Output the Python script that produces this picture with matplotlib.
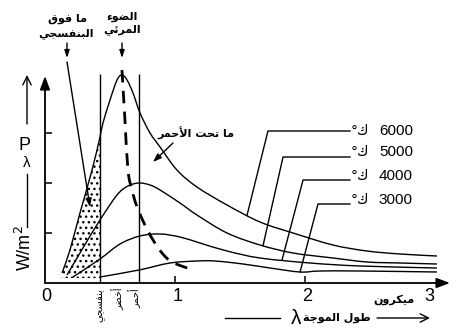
import numpy as np
import matplotlib
matplotlib.use("Agg")
import matplotlib.pyplot as plt
from matplotlib.path import Path
from matplotlib.patches import PathPatch

plt.rcParams["font.family"] = ["Liberation Sans", "DejaVu Sans"]

# ---------------- data (wavelength in microns, relative spectral power) ----------------
lam_6000 = [0.131, 0.192, 0.269, 0.362, 0.423, 0.446, 0.50, 0.554, 0.592, 0.631, 0.677,
            0.731, 0.808, 0.885, 1.015, 1.169, 1.40, 1.654, 1.908, 2.215, 2.477, 2.731, 3.015]
p_6000 = [0.20, 0.66, 1.40, 2.26, 2.92, 3.20, 3.66, 4.06, 4.16, 4.06, 3.80,
          3.40, 3.00, 2.72, 2.26, 1.92, 1.56, 1.22, 1.00, 0.76, 0.64, 0.58, 0.54]

lam_5000 = [0.169, 0.292, 0.423, 0.554, 0.638, 0.723, 0.808, 0.885, 1.038, 1.169,
            1.40, 1.654, 1.908, 2.215, 2.477, 2.731, 3.015]
p_5000 = [0.16, 0.70, 1.26, 1.76, 1.94, 2.00, 1.96, 1.86, 1.60, 1.36,
          1.00, 0.76, 0.60, 0.50, 0.42, 0.40, 0.38]

lam_4000 = [0.215, 0.423, 0.577, 0.731, 0.885, 1.038, 1.192, 1.40, 1.654, 2.038, 2.423, 3.015]
p_4000 = [0.12, 0.48, 0.78, 0.94, 0.98, 0.92, 0.80, 0.64, 0.50, 0.40, 0.34, 0.30]

lam_3000 = [0.423, 0.723, 0.962, 1.169, 1.308, 1.523, 1.731, 1.962, 2.115, 2.423, 3.015]
p_3000 = [0.12, 0.26, 0.40, 0.44, 0.44, 0.38, 0.30, 0.22, 0.24, 0.24, 0.22]

# locus of the spectral peaks
lam_peak = [0.592, 0.615, 0.638, 0.669, 0.708, 0.769, 0.831, 0.90, 0.977, 1.115]
p_peak = [4.26, 3.26, 2.26, 1.86, 1.52, 1.16, 0.86, 0.60, 0.42, 0.28]

# visible band edges (violet, red) in microns and the colour names under the axis
band_edges = [0.423, 0.723]
band_label_lam = [0.423, 0.56, 0.69]
band_labels = ["بنفسجي", "أخضر", "أحمر"]

temperatures = ["6000", "5000", "4000", "3000"]
curves = [(lam_6000, p_6000), (lam_5000, p_5000), (lam_4000, p_4000), (lam_3000, p_3000)]
leader_lam = [1.554, 1.677, 1.823, 1.962]
leader_corner_lam = [1.715, 1.831, 1.985, 2.10]
leader_p = [3.04, 2.52, 2.06, 1.58]
label_p = [3.04, 2.61, 2.13, 1.66]

x_ticks = [0, 1, 2, 3]
y_ticks = [1, 2, 3]

# ---------------- minimal Arabic contextual shaping ----------------
FORMS = {
    "ء": (0xFE80, None, None, None),
    "أ": (0xFE83, 0xFE84, None, None),
    "ئ": (0xFE89, 0xFE8A, 0xFE8B, 0xFE8C),
    "ا": (0xFE8D, 0xFE8E, None, None),
    "ب": (0xFE8F, 0xFE90, 0xFE91, 0xFE92),
    "ة": (0xFE93, 0xFE94, None, None),
    "ت": (0xFE95, 0xFE96, 0xFE97, 0xFE98),
    "ج": (0xFE9D, 0xFE9E, 0xFE9F, 0xFEA0),
    "ح": (0xFEA1, 0xFEA2, 0xFEA3, 0xFEA4),
    "خ": (0xFEA5, 0xFEA6, 0xFEA7, 0xFEA8),
    "ر": (0xFEAD, 0xFEAE, None, None),
    "س": (0xFEB1, 0xFEB2, 0xFEB3, 0xFEB4),
    "ض": (0xFEBD, 0xFEBE, 0xFEBF, 0xFEC0),
    "ط": (0xFEC1, 0xFEC2, 0xFEC3, 0xFEC4),
    "ف": (0xFED1, 0xFED2, 0xFED3, 0xFED4),
    "ق": (0xFED5, 0xFED6, 0xFED7, 0xFED8),
    "ك": (0xFED9, 0xFEDA, 0xFEDB, 0xFEDC),
    "ل": (0xFEDD, 0xFEDE, 0xFEDF, 0xFEE0),
    "م": (0xFEE1, 0xFEE2, 0xFEE3, 0xFEE4),
    "ن": (0xFEE5, 0xFEE6, 0xFEE7, 0xFEE8),
    "و": (0xFEED, 0xFEEE, None, None),
    "ي": (0xFEF1, 0xFEF2, 0xFEF3, 0xFEF4),
}
LAM_ALEF = {"ا": (0xFEFB, 0xFEFC), "أ": (0xFEF7, 0xFEF8)}


def shape(text):
    units = []
    i = 0
    while i < len(text):
        c = text[i]
        if c == "ل" and i + 1 < len(text) and text[i + 1] in LAM_ALEF:
            units.append(("LA", text[i + 1]))
            i += 2
        else:
            units.append(c)
            i += 1

    def joins_next(u):
        if isinstance(u, tuple):
            return False
        f = FORMS.get(u)
        return f is not None and f[2] is not None

    def joins_prev(u):
        if isinstance(u, tuple):
            return True
        f = FORMS.get(u)
        return f is not None and f[1] is not None

    out = []
    for k, u in enumerate(units):
        prev = units[k - 1] if k > 0 else None
        nxt = units[k + 1] if k + 1 < len(units) else None
        jp = prev is not None and joins_next(prev) and joins_prev(u)
        jn = nxt is not None and joins_next(u) and joins_prev(nxt)
        if isinstance(u, tuple):
            out.append(chr(LAM_ALEF[u[1]][1 if jp else 0]))
        elif u in FORMS:
            f = FORMS[u]
            idx = 3 if (jp and jn) else 1 if jp else 2 if jn else 0
            out.append(chr(f[idx]))
        else:
            out.append(u)
    return "".join(reversed(out))


def smooth_path(xs, ys):
    """Cubic Bezier path passing through every given point (Catmull-Rom tangents)."""
    pts = np.column_stack([xs, ys]).astype(float)
    verts = [pts[0]]
    codes = [Path.MOVETO]
    n = len(pts)
    for i in range(n - 1):
        p0 = pts[i - 1] if i > 0 else pts[i]
        p1, p2 = pts[i], pts[i + 1]
        p3 = pts[i + 2] if i + 2 < n else pts[i + 1]
        verts += [p1 + (p2 - p0) / 6, p2 - (p3 - p1) / 6, p2]
        codes += [Path.CURVE4] * 3
    return Path(verts, codes)


# ---------------- figure ----------------
W, H = 462, 334
fig = plt.figure(figsize=(W / 100, H / 100), dpi=100)
X0, Y0, SX, SY = 45, 283, 130, 50
XMAX = (450 - X0) / SX
YMAX = (Y0 - 60) / SY
ax = fig.add_axes([X0 / W, (H - Y0) / H, XMAX * SX / W, YMAX * SY / H])
ax.set_xlim(0, XMAX)
ax.set_ylim(0, YMAX)
for s in ax.spines.values():
    s.set_visible(False)


def ftxt(x, y, s, **kw):
    fig.text(x / W, 1 - y / H, s, **kw)


def dpt(x, y):
    return ((x - X0) / SX, (Y0 - y) / SY)


AR = dict(family="DejaVu Sans", fontweight="bold")
k = "black"

# axes with arrow heads
for tip in [(0, 4.14), (XMAX, 0)]:
    ax.annotate("", xy=tip, xytext=(0, 0), annotation_clip=False,
                arrowprops=dict(arrowstyle="-|>,head_length=0.8,head_width=0.3",
                                lw=1.3, color=k, shrinkA=0, shrinkB=0))
ax.set_xticks([1, 2])
ax.set_yticks(y_ticks)
ax.set_xticklabels([])
ax.set_yticklabels([])
ax.tick_params(direction="in", length=5, width=1.1, color=k)
for v, dx in zip(x_ticks, [0.01, 0.02, 0.02, -0.04]):
    ax.text(v + dx, -0.1, str(v), ha="center", va="top", fontsize=13)

# stippled ultraviolet region under the hottest curve
poly_x = [x for x in lam_6000 if x <= band_edges[0]]
poly_y = p_6000[:len(poly_x)]
ax.fill(poly_x + [band_edges[0], poly_x[0]], poly_y + [0.10, 0.10],
        facecolor="none", edgecolor=k, hatch="...", linewidth=0)

# visible band edges
ax.vlines(band_edges, 0, 4.18, color=k, lw=1.0)

# radiation curves
for lx, py in curves:
    ax.add_patch(PathPatch(smooth_path(lx, py), fill=False, edgecolor=k, lw=1.0))
ax.add_patch(PathPatch(smooth_path(lam_peak, p_peak), fill=False, edgecolor=k, lw=2.0,
                       linestyle=(0, (4.5, 3))))

# temperature labels with leader lines
for t, (lx, py), l0, lc, lp, tp in zip(temperatures, curves, leader_lam,
                                       leader_corner_lam, leader_p, label_p):
    p0 = np.interp(l0, lx, py)
    ax.plot([l0, lc, 2.346], [p0, lp, lp], color=k, lw=1.0, clip_on=False)
    ax.text(2.83, tp, t, ha="right", va="center", fontsize=11)
    ax.text(2.49, tp, "°" + shape("ك"), ha="right", va="center", fontsize=10,
            family="DejaVu Sans")

# top labels
ftxt(67, 19, shape("ما فوق"), ha="center", va="center", fontsize=8, **AR)
ftxt(66, 34, shape("البنفسجي"), ha="center", va="center", fontsize=8, **AR)
ftxt(122, 17, shape("الضوء"), ha="center", va="center", fontsize=8, **AR)
ftxt(122, 30, shape("المرئي"), ha="center", va="center", fontsize=8, **AR)
small_head = dict(arrowstyle="-|>,head_length=0.45,head_width=0.15",
                  lw=1.0, color=k, shrinkA=0, shrinkB=0)
for xa in (67, 122):
    ax.annotate("", xy=dpt(xa, 58), xytext=dpt(xa, 43), annotation_clip=False,
                arrowprops=small_head)
pointer_head = dict(arrowstyle="-|>,head_length=0.5,head_width=0.18",
                    lw=1.0, color=k, shrinkA=0, shrinkB=0)
# ultraviolet pointer
ax.annotate("", xy=dpt(90, 207), xytext=dpt(67, 62), annotation_clip=False,
            arrowprops=pointer_head)
# infrared label
ftxt(196, 133, shape("ما تحت الأحمر"), ha="center", va="center", fontsize=8, **AR)
ax.annotate("", xy=dpt(153, 162), xytext=dpt(173, 143), annotation_clip=False,
            arrowprops=pointer_head)

# colour names below the axis
for lv, name in zip(band_label_lam, band_labels):
    ax.text(lv, -0.1, shape(name), rotation=90, ha="center", va="top",
            fontsize=7, family="DejaVu Sans")

# x axis caption
open_head = dict(arrowstyle="->,head_length=0.6,head_width=0.3",
                 lw=1.0, color=k, shrinkA=0, shrinkB=0)
ftxt(414, 300, shape("ميكرون"), ha="right", va="center", fontsize=8, **AR)
ftxt(296, 318, "λ", ha="center", va="center", fontsize=15)
ftxt(337, 318, shape("طول الموجة"), ha="center", va="center", fontsize=8, **AR)
fig.add_artist(plt.Line2D([225 / W, 280 / W], [1 - 318 / H, 1 - 318 / H], color=k, lw=1.0))
ax.annotate("", xy=dpt(430, 318), xytext=dpt(377, 318), annotation_clip=False,
            arrowprops=open_head)

# y axis caption
ax.annotate("", xy=dpt(27, 75), xytext=dpt(27, 124), annotation_clip=False,
            arrowprops=open_head)
ftxt(25, 145, "P", ha="center", va="center", fontsize=13)
ftxt(27, 163, "λ", ha="center", va="center", fontsize=11)
fig.add_artist(plt.Line2D([27 / W, 27 / W], [1 - 174 / H, 1 - 227 / H], color=k, lw=1.0))
ftxt(25, 248, r"W/m$^2$", ha="center", va="center", fontsize=13, rotation=90)

fig.savefig("out.png", dpi=100)
